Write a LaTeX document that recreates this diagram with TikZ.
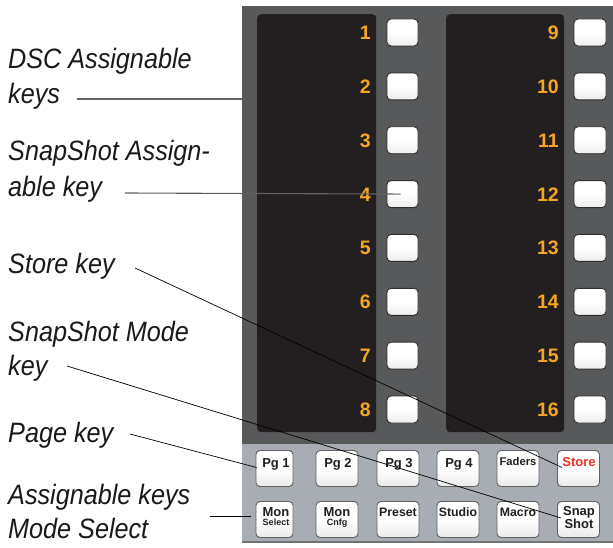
\documentclass[tikz,border=0pt]{standalone}
\usepackage{fontspec}
\setmainfont{Liberation Sans}
\newfontfamily\lblfont[FakeStretch=0.9]{Liberation Sans}
\definecolor{panelc}{HTML}{58595B}
\definecolor{dispc}{HTML}{231F20}
\definecolor{lowerc}{HTML}{A8ADB3}
\definecolor{numc}{HTML}{F5A623}
\definecolor{storec}{HTML}{EE3124}
\definecolor{edgec}{HTML}{2E2E30}
\begin{document}
\begin{tikzpicture}[x=1pt,y=-1pt,
  key/.style={draw=edgec, line width=0.9pt, top color=white, bottom color=white!93!black, middle color=white, rounded corners=4pt, minimum width=31pt, minimum height=27pt, inner sep=0pt},
  bkey/.style={draw=black!62, line width=0.9pt, top color=white, bottom color=white!92!black, middle color=white, rounded corners=4pt, minimum width=42pt, minimum height=36pt, inner sep=0pt},
  numl/.style={text=numc, font=\fontsize{19.5}{20}\selectfont\bfseries, anchor=base east, inner sep=0pt},
  ktext/.style={font=\fontsize{13}{13}\selectfont\bfseries, anchor=base, inner sep=0pt, text=black!88},
  ksmall/.style={font=\fontsize{9}{9}\selectfont\bfseries, anchor=base, inner sep=0pt, text=black!88},
  kmid/.style={font=\fontsize{12.3}{12}\selectfont\bfseries, anchor=base, inner sep=0pt, text=black!88},
  lbl/.style={font=\lblfont\itshape\fontsize{28}{35}\selectfont, anchor=base west, inner sep=0pt, text=black!90},
  leader/.style={line width=0.7pt, black},
  gleader/.style={line width=1.1pt, black!62}]
\fill[white] (0,0) rectangle (613,548);
\useasboundingbox (0,0) rectangle (613,548);
% panel
\node[fill=panelc, inner sep=0pt, minimum width=371pt, minimum height=438pt, anchor=north west] (panel) at (242,6) {};
\node[fill=lowerc, inner sep=0pt, minimum width=371pt, minimum height=97pt, anchor=north west] (lower) at (242,444) {};
\fill[black!55] (242,541) rectangle (613,543);
% displays
\node[fill=dispc, rounded corners=4pt, inner sep=0pt, minimum width=119pt, minimum height=418pt, anchor=north west] (dispL) at (257,14) {};
\node[fill=dispc, rounded corners=4pt, inner sep=0pt, minimum width=118pt, minimum height=418pt, anchor=north west] (dispR) at (446,14) {};
% keys 1-16
\foreach \i in {1,...,8} {
  \pgfmathsetmacro{\yc}{32.5+(\i-1)*53.86}
  \pgfmathtruncatemacro{\j}{\i+8}
  \node[key] (k\i) at (402.5,\yc) {};
  \node[key, minimum width=32pt] (k\j) at (590,\yc) {};
  \node[numl] (n\i) at (371,\yc+7) {\i};
  \node[numl] (n\j) at (559,\yc+7) {\j};
}
% bottom keys row 1
\node[bkey, minimum width=37pt] (pg1) at (274.5,468.5) {};
\node[bkey] (pg2) at (337,468.5) {};
\node[bkey] (pg3) at (398,468.5) {};
\node[bkey] (pg4) at (458,468.5) {};
\node[bkey] (faders) at (518,468.5) {};
\node[bkey] (store) at (578.5,468.5) {};
\node[ktext] (tpg1) at (276,467) {Pg 1};
\node[ktext] (tpg2) at (338,467) {Pg 2};
\node[ktext] (tpg3) at (399,467) {Pg 3};
\node[ktext] (tpg4) at (459,467) {Pg 4};
\node[ktext, font=\fontsize{11.2}{11}\selectfont\bfseries] (tfad) at (518,465) {Faders};
\node[ktext, text=storec] (tsto) at (579,466) {Store};
% bottom keys row 2
\node[bkey, minimum width=37pt] (mon) at (274.5,519.5) {};
\node[bkey] (monc) at (337,519.5) {};
\node[bkey] (preset) at (398,519.5) {};
\node[bkey] (studio) at (458,519.5) {};
\node[bkey] (macro) at (518,519.5) {};
\node[bkey] (snap) at (578.5,519.5) {};
\node[ktext] (tmon) at (276,516) {Mon};
\node[ksmall] (tsel) at (276,525) {Select};
\node[ktext] (tmonc) at (337,516) {Mon};
\node[ksmall] (tcnf) at (337,525) {Cnfg};
\node[kmid] (tpre) at (398,516.5) {Preset};
\node[kmid] (tstu) at (458,516.5) {Studio};
\node[kmid] (tmac) at (518,516.5) {Macro};
\node[ktext] (tsnap) at (579,515) {Snap};
\node[ktext] (tshot) at (579,528.5) {Shot};
% labels
\node[lbl] (l1a) at (8,69) {DSC Assignable};
\node[lbl] (l1b) at (8,104) {keys};
\node[lbl] (l2a) at (8,161) {SnapShot Assign-};
\node[lbl] (l2b) at (8,197) {able key};
\node[lbl] (l3) at (8,273) {Store key};
\node[lbl] (l4a) at (8,341) {SnapShot Mode};
\node[lbl] (l4b) at (8,375) {key};
\node[lbl] (l5) at (8,442) {Page key};
\node[lbl] (l6a) at (8,504) {Assignable keys};
\node[lbl] (l6b) at (8,538) {Mode Select};
% leader start points
\coordinate (s1) at (77,99);
\coordinate (s2) at (125,193);
\coordinate (s3) at (135,268);
\coordinate (s4) at (67,366);
\coordinate (s5) at (130,434);
\coordinate (s6) at (210,516);
% leaders
\draw[gleader] (s1) -- (s1 -| panel.west);
\draw[gleader] (s2) -- ([xshift=-2pt]k4.center);
\draw[leader] (s3) -- ([xshift=5pt,yshift=1pt]store.west);
\draw[leader] (s4) -- ([xshift=4pt,yshift=1.5pt]snap.west);
\draw[leader] (s5) -- ([xshift=1pt,yshift=1pt]pg1.west);
\draw[leader] (s6) -- ([xshift=-5pt,yshift=3.5pt]mon.west);
\end{tikzpicture}
\end{document}
